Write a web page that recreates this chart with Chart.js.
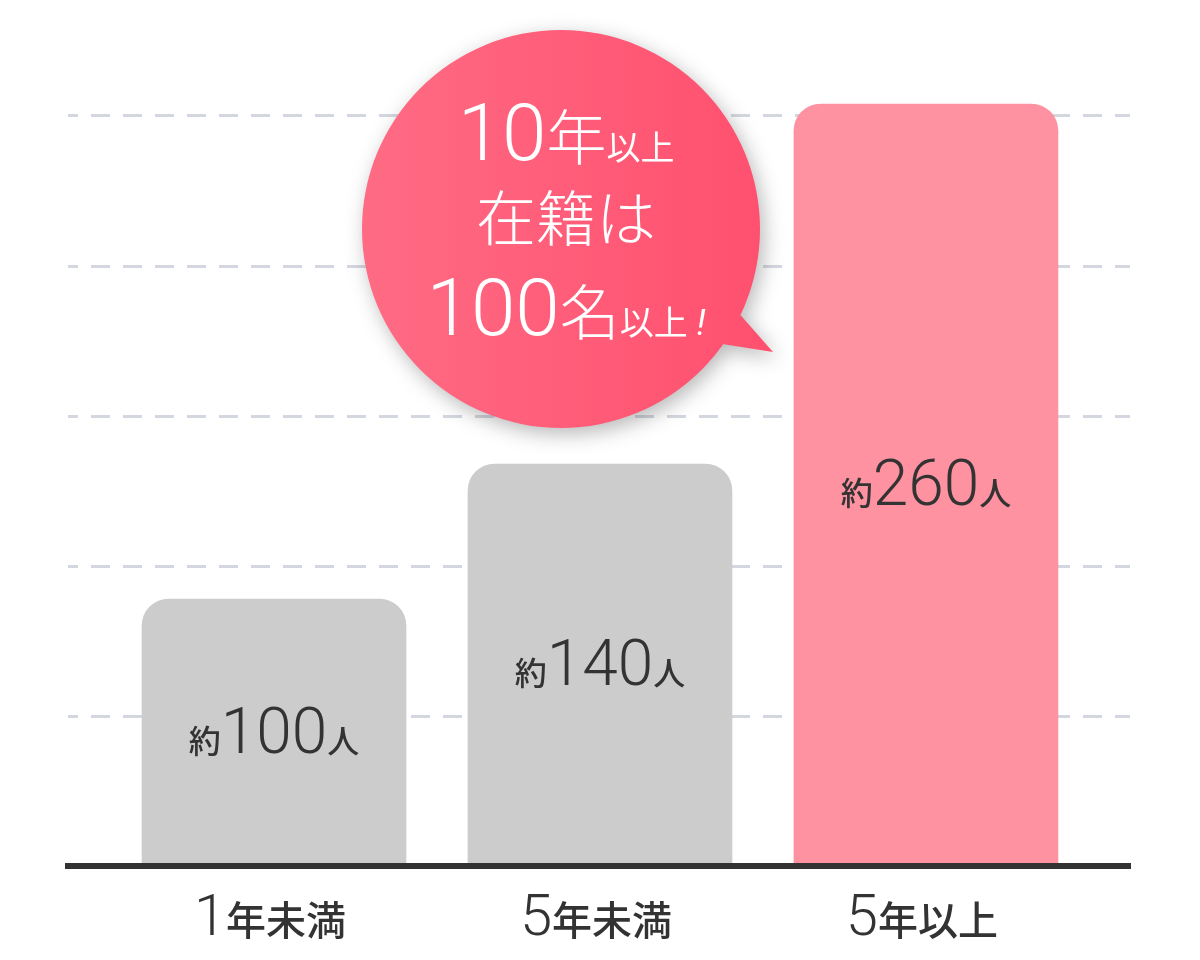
<!DOCTYPE html>
<html lang="ja">
<head>
<meta charset="utf-8">
<title>在籍年数</title>
<script src="https://cdn.jsdelivr.net/npm/chart.js@4.4.1/dist/chart.umd.min.js"></script>
<style>
  html, body { margin: 0; padding: 0; background: #fff; }
  #wrap { width: 1200px; height: 960px; position: relative; }
</style>
</head>
<body>
<div id="wrap"><canvas id="chart"></canvas></div>
<script>
// カテゴリと値（棒の高さは図から読み取った目盛り上の値。図は実数に比例していない）
const categories = ['1年未満', '5年未満', '5年以上'];
const barLevels = [89, 134, 254];
const valueLabels = ['約100人', '約140人', '約260人'];
const gridValues = [50, 100, 150, 200, 250];
const barColors = ['#cccccc', '#cccccc', '#fe92a1'];

// 吹き出しの文言
const balloonLines = [
  [['10', 'num'], ['年', 'mid'], ['以上', 'small']],
  [['在籍は', 'mid']],
  [['100', 'num'], ['名', 'mid'], ['以上', 'small'], [' !', 'bang']]
];

const JP = '"Noto Sans CJK JP", "Noto Sans CJK SC", sans-serif';
const NUM = 'Roboto, "Open Sans", sans-serif';

const labelFonts = { num: '300 64px ' + NUM, txt: '500 32px ' + JP };
const tickFonts = { num: '300 58px ' + NUM, txt: '500 40px ' + JP };
const balloonFonts = {
  num: '300 80px ' + NUM,
  mid: '300 60px ' + JP,
  small: '400 34px ' + JP,
  bang: 'italic 400 36px ' + NUM
};

// 数字とそれ以外で分ける
function splitRuns(text) {
  return text.match(/(\d+|[^\d]+)/g).map(s => [s, /\d/.test(s) ? 'num' : 'txt']);
}

// 複数フォントの文字列を中央揃えで描く
function drawRuns(ctx, runs, fonts, cx, baseline, color) {
  ctx.save();
  ctx.fillStyle = color;
  ctx.textBaseline = 'alphabetic';
  ctx.textAlign = 'left';
  let total = 0;
  const widths = runs.map(([t, k]) => {
    ctx.font = fonts[k];
    const w = ctx.measureText(t).width;
    total += w;
    return w;
  });
  let x = cx - total / 2;
  runs.forEach(([t, k], i) => {
    ctx.font = fonts[k];
    ctx.fillText(t, x, baseline);
    x += widths[i];
  });
  ctx.restore();
}

const barTextPlugin = {
  id: 'barText',
  afterDatasetsDraw(chart) {
    const ctx = chart.ctx;
    chart.getDatasetMeta(0).data.forEach((bar, i) => {
      const mid = (bar.y + bar.base) / 2;
      drawRuns(ctx, splitRuns(valueLabels[i]), labelFonts, bar.x, mid + 20, '#333333');
    });
    const xs = chart.scales.x;
    categories.forEach((c, i) => {
      drawRuns(ctx, splitRuns(c), tickFonts, xs.getPixelForValue(i) - 4, chart.chartArea.bottom + 69, '#333333');
    });
  }
};

const balloonPlugin = {
  id: 'balloon',
  afterDatasetsDraw(chart) {
    const ctx = chart.ctx;
    const cx = 561, cy = 229, r = 199;
    ctx.save();
    const g = ctx.createLinearGradient(cx - r, 0, cx + r, 0);
    g.addColorStop(0, '#ff6b84');
    g.addColorStop(1, '#ff506f');
    ctx.beginPath();
    ctx.arc(cx, cy, r, 0, Math.PI * 2);
    ctx.moveTo(736, 310);
    ctx.lineTo(773, 352);
    ctx.lineTo(716, 343);
    ctx.closePath();
    ctx.shadowColor = 'rgba(0, 0, 0, 0.28)';
    ctx.shadowBlur = 20;
    ctx.shadowOffsetX = 4;
    ctx.shadowOffsetY = 6;
    ctx.fillStyle = g;
    ctx.fill();
    ctx.restore();

    const baselines = [160, 241, 335];
    balloonLines.forEach((line, i) => {
      drawRuns(ctx, line, balloonFonts, 566, baselines[i], '#ffffff');
    });
  }
};

new Chart(document.getElementById('chart'), {
  type: 'bar',
  data: {
    datasets: [{
      data: categories.map((c, i) => ({ x: i, y: barLevels[i] })),
      backgroundColor: barColors,
      borderWidth: 0,
      borderSkipped: false,
      borderRadius: { topLeft: 27, topRight: 27, bottomLeft: 0, bottomRight: 0 },
      barThickness: 264
    }]
  },
  options: {
    responsive: true,
    maintainAspectRatio: false,
    animation: false,
    devicePixelRatio: 1,
    layout: { padding: { left: 68, right: 70, top: 80, bottom: 94 } },
    plugins: { legend: { display: false }, tooltip: { enabled: false } },
    scales: {
      x: {
        type: 'linear',
        offset: false,
        min: -0.632,
        max: 2.626,
        grid: { display: false, drawTicks: false, offset: false },
        ticks: { display: false },
        border: { display: true, color: '#333333', width: 6, z: 1 }
      },
      y: {
        min: 0,
        max: 262,
        afterBuildTicks(scale) {
          scale.ticks = gridValues.map(v => ({ value: v }));
        },
        grid: { color: '#d5d7e0', lineWidth: 3, drawTicks: false },
        ticks: { display: false },
        border: { display: false, dash: [19, 13], dashOffset: 9 }
      }
    }
  },
  plugins: [barTextPlugin, balloonPlugin]
});
</script>
</body>
</html>
